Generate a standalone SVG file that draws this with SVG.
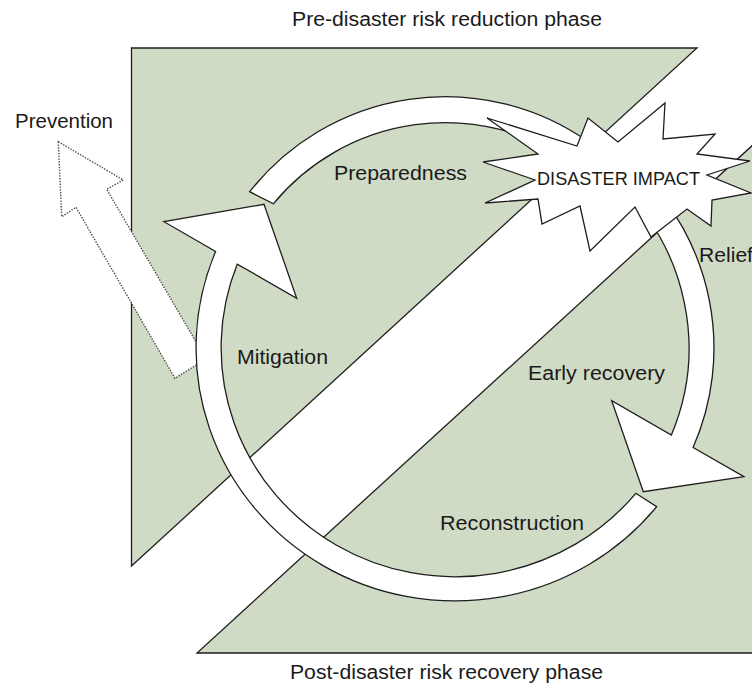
<svg xmlns="http://www.w3.org/2000/svg" width="752" height="685" viewBox="0 0 752 685">
<style>
.phase{fill:#d0dbc5;stroke:#1e1e1e;stroke-width:1.3}
.ring{fill:#ffffff;stroke:#1e1e1e;stroke-width:1.3;stroke-linejoin:miter}
.dotted{fill:#ffffff;stroke:#4a4a4a;stroke-width:1.4;stroke-dasharray:1.4 1.4}
.lbl{font-family:"Liberation Sans",Arial,Helvetica,sans-serif;font-size:20px;fill:#1a1a1a}
.big{font-size:19px}
</style>
<rect width="752" height="685" fill="#ffffff"/>
<g id="phases">
<polygon id="pre-disaster-phase" class="phase" points="131.5,48 697,48 131.5,566"/>
<polygon id="post-disaster-phase" class="phase" points="197,653 770,653 770,129.3"/>
</g>
<g id="connectors">
<polygon id="prevention-arrow" class="dotted" points="58.3,141.7 123.3,180 106.7,189.3 206,359 175,378.3 76,207.3 61.7,216.7"/>
<path id="preparedness-arc" class="ring" d="M249.7,191.7 A249,249 0 0 1 588.2,141.7 L573.3,163 A223,223 0 0 0 273.3,203.8 Z"/>
<path id="relief-arc" class="ring" d="M638.1,169.1 A259,253 0 0 1 693.1,447.5 L744,476.7 L643.3,491.7 L611.7,400.7 L671.4,435 A234,229 0 0 0 620.5,186.1 Z"/>
<path id="reconstruction-mitigation-arc" class="ring" d="M656.7,506.7 A259,253 0 0 1 215.6,251.5 L164,221.7 L264,204.3 L296.7,298.3 L237.3,264.1 A234,229 0 0 0 635.8,493.3 Z"/>
</g>
<g id="disaster-impact">
<polygon class="ring" points="487,118 577,146 588,118 618,142 665,103 663,139 715,134 697,154 750,161 707,175 751,193 712,200 711,226 687,209 651,237 635,207 590,251 580,206 542,224 538,199 485,203 535,180 483,162 538,154"/>
<text class="lbl big" x="537" y="185" textLength="163" lengthAdjust="spacingAndGlyphs">DISASTER IMPACT</text>
</g>
<g id="title-pre"><text class="lbl" x="292" y="26" textLength="310" lengthAdjust="spacingAndGlyphs">Pre-disaster risk reduction phase</text></g>
<g id="title-post"><text class="lbl" x="290" y="679" textLength="313" lengthAdjust="spacingAndGlyphs">Post-disaster risk recovery phase</text></g>
<g id="prevention"><text class="lbl" x="15" y="128" textLength="98" lengthAdjust="spacingAndGlyphs">Prevention</text></g>
<g id="preparedness"><text class="lbl" x="334" y="180" textLength="133" lengthAdjust="spacingAndGlyphs">Preparedness</text></g>
<g id="mitigation"><text class="lbl" x="237" y="364" textLength="91" lengthAdjust="spacingAndGlyphs">Mitigation</text></g>
<g id="early-recovery"><text class="lbl" x="528" y="380" textLength="137" lengthAdjust="spacingAndGlyphs">Early recovery</text></g>
<g id="reconstruction"><text class="lbl" x="440" y="530" textLength="144" lengthAdjust="spacingAndGlyphs">Reconstruction</text></g>
<g id="relief"><text class="lbl" x="699" y="262" textLength="54" lengthAdjust="spacingAndGlyphs">Relief</text></g>
</svg>
